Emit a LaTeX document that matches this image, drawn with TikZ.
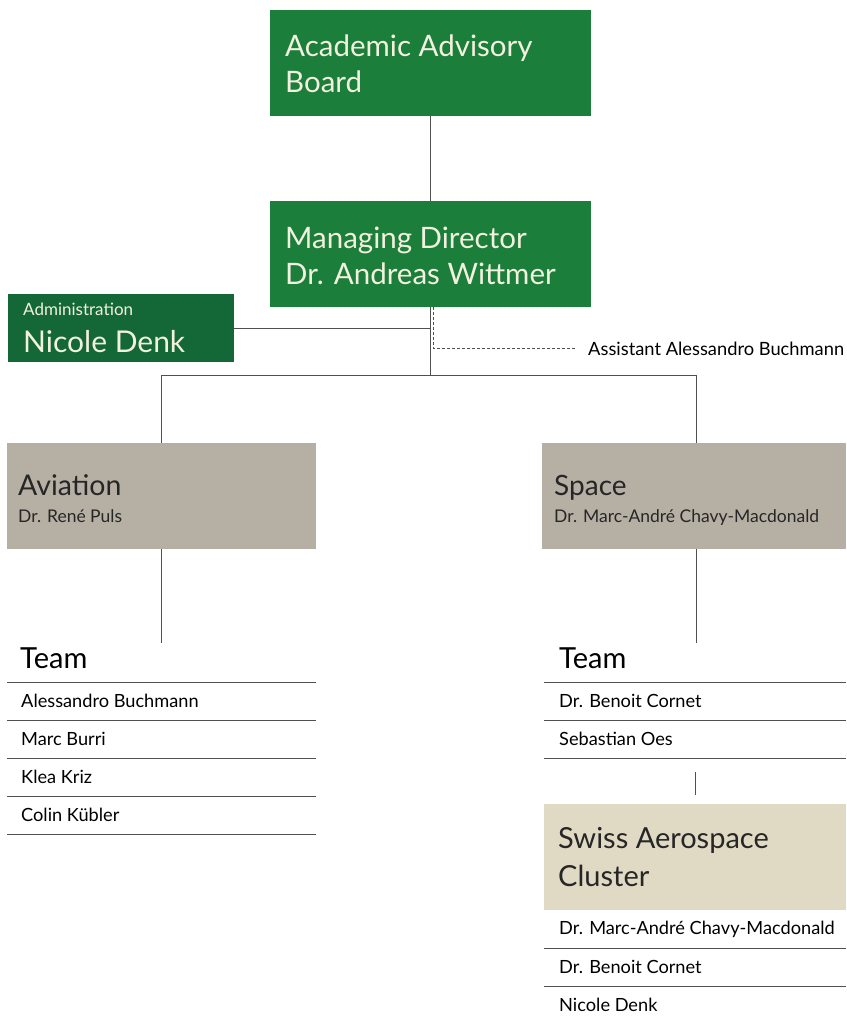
\documentclass[tikz,border=0pt]{standalone}
\usepackage{fontspec}
\setmainfont{Lato}
\definecolor{boardgreen}{RGB}{27,126,58}
\definecolor{admingreen}{RGB}{20,104,55}
\definecolor{unitgray}{RGB}{182,175,164}
\definecolor{clusterbeige}{RGB}{224,217,195}
\definecolor{cream}{RGB}{242,240,222}
\definecolor{linegray}{RGB}{80,80,80}
\begin{document}
\begin{tikzpicture}[x=1pt,y=-1pt,
  box/.style={rectangle, anchor=north west, inner sep=0pt},
  greenbox/.style={box, fill=boardgreen, minimum width=321pt, minimum height=106pt},
  adminbox/.style={box, fill=admingreen, minimum width=226pt, minimum height=68pt},
  unitbox/.style={box, fill=unitgray, minimum height=106pt},
  clusterbox/.style={box, fill=clusterbeige, minimum width=302pt, minimum height=106pt},
  txt/.style={anchor=base west, inner sep=0pt},
  bigw/.style={txt, text=cream, font=\fontsize{29.5}{30}\selectfont},
  bigd/.style={txt, text=black!85, font=\fontsize{29}{30}\selectfont},
  subd/.style={txt, text=black!85, font=\fontsize{17.5}{20}\selectfont},
  conn/.style={draw=linegray, line width=0.8pt},
  dashconn/.style={draw=linegray, line width=0.8pt, dash pattern=on 3pt off 2pt},
  rule/.style={draw=linegray, line width=1pt},
  teamhead/.style={txt, font=\fontsize{29}{30}\selectfont, text=black},
  member/.style={txt, font=\fontsize{18.2}{20}\selectfont, text=black}
]
\useasboundingbox (0,0) rectangle (846,1022);

% top boxes
\node[greenbox] (aab) at (270,10) {};
\node[bigw] (aab1) at (285,57) {Academic Advisory};
\node[bigw] (aab2) at (285,93) {Board};
\node[greenbox] (md) at (270,201) {};
\node[bigw] (md1) at (285,248) {Managing Director};
\node[bigw] (md2) at (285,284) {Dr. Andreas Wittmer};
\node[adminbox] (adm) at (8,294) {};
\node[txt, text=cream, font=\fontsize{17}{20}\selectfont] (adm1) at (23,315) {Administration};
\node[txt, text=cream, font=\fontsize{30}{30}\selectfont] (adm2) at (23,352) {Nicole Denk};

\coordinate (mdjoin) at (430,328);
\coordinate (hub) at (430,375);
\coordinate (dashcorner) at (433,348);
\node[txt, font=\fontsize{18.3}{20}\selectfont] (asst) at (588,355) {Assistant Alessandro Buchmann};

\draw[conn] (aab.south -| hub) -- (md.north -| hub);
\draw[conn] (md.south -| hub) -- (hub);
\draw[conn] (adm.east |- mdjoin) -- (mdjoin);
\draw[dashconn] (md.south -| dashcorner) -- (dashcorner) -- ([xshift=-12pt]asst.west |- dashcorner);

% units
\node[unitbox, minimum width=309pt] (avi) at (7,443) {};
\node[txt, text=black!85, font=\fontsize{28.5}{30}\selectfont] (avi1) at (18,495) {Aviation};
\node[subd] (avi2) at (18,522) {Dr. René Puls};
\node[unitbox, minimum width=304pt] (spc) at (542,443) {};
\node[txt, text=black!85, font=\fontsize{28}{30}\selectfont] (spc1) at (554,495) {Space};
\node[subd] (spc2) at (554,522) {Dr. Marc-André Chavy-Macdonald};

\coordinate (hubL) at (161,375);
\coordinate (hubR) at (696,375);
\draw[conn] (hubL) -- (hubR);
\draw[conn] (hubL) -- (hubL |- avi.north);
\draw[conn] (hubR) -- (hubR |- spc.north);

% teams
\coordinate (teamLtop) at (161,643);
\coordinate (teamRtop) at (696,643);
\draw[conn] (avi.south -| teamLtop) -- (teamLtop);
\draw[conn] (spc.south -| teamRtop) -- (teamRtop);

\node[teamhead] (teamL) at (20,668) {Team};
\foreach \y in {682,720,758,796,834} \draw[rule] (7,\y) -- (316,\y);
\node[member] (l1) at (21,707) {Alessandro Buchmann};
\node[member] (l2) at (21,745) {Marc Burri};
\node[member] (l3) at (21,783) {Klea Kriz};
\node[member] (l4) at (21,821) {Colin Kübler};

\node[teamhead] (teamR) at (559,668) {Team};
\foreach \y in {682,720,758} \draw[rule] (544,\y) -- (846,\y);
\node[member] (r1) at (559,707) {Dr. Benoit Cornet};
\node[member] (r2) at (559,745) {Sebastian Oes};

% cluster
\node[clusterbox] (sac) at (544,804) {};
\node[bigd] (sac1) at (558,848) {Swiss Aerospace};
\node[bigd] (sac2) at (558,886) {Cluster};
\coordinate (sacTop) at (695,772);
\draw[conn] (sacTop) -- (sacTop |- 0,795);
\foreach \y in {948,986} \draw[rule] (544,\y) -- (846,\y);
\node[member] (c1) at (559,934) {Dr. Marc-André Chavy-Macdonald};
\node[member] (c2) at (559,973) {Dr. Benoit Cornet};
\node[member] (c3) at (559,1011) {Nicole Denk};
\end{tikzpicture}
\end{document}
